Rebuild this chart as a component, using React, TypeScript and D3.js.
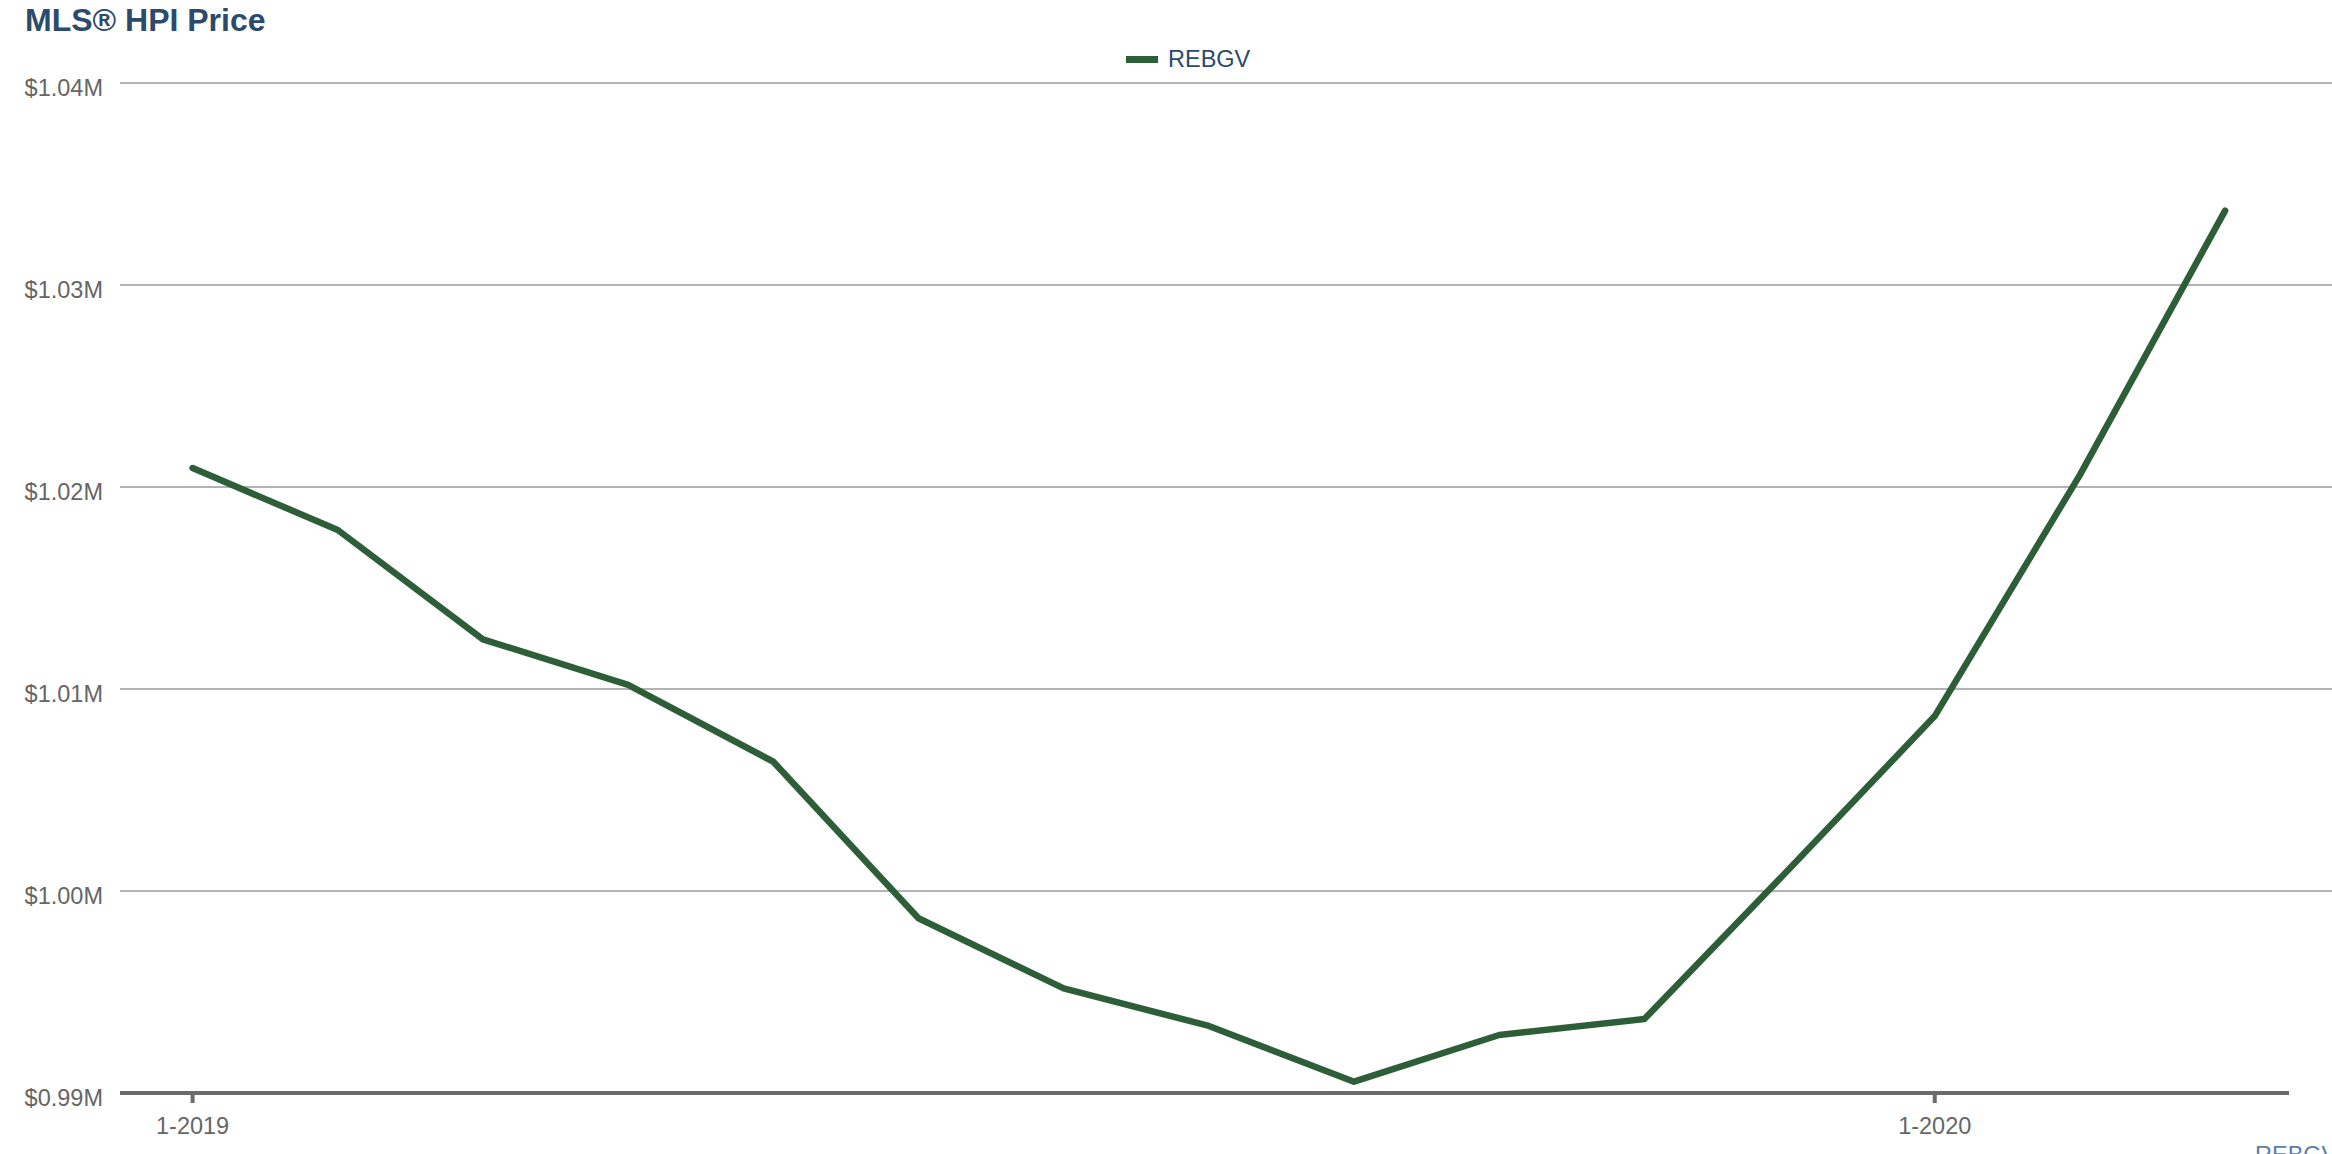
import React from "react";
import * as d3 from "d3";

const months = [
  "1-2019", "2-2019", "3-2019", "4-2019", "5-2019", "6-2019", "7-2019", "8-2019",
  "9-2019", "10-2019", "11-2019", "12-2019", "1-2020", "2-2020", "3-2020",
];
const rebgv = [
  1020940, 1017870, 1012460, 1010200, 1006400, 998650, 995180, 993320,
  990560, 992870, 993660, 1001110, 1008660, 1020600, 1033680,
];
const yTicks = [990000, 1000000, 1010000, 1020000, 1030000, 1040000];
const xTickLabels = ["1-2019", "1-2020"];
const seriesName = "REBGV";
const title = "MLS® HPI Price";

const W = 2332;
const H = 1154;
const FONT = "Arial, 'Liberation Sans', Helvetica, sans-serif";

export default function App() {
  const x = d3.scaleLinear().domain([-0.5, months.length - 1 + 0.44]).range([120, 2289]);
  const y = d3.scaleLinear().domain([990000, 1040000]).range([1093, 83]);
  const line = d3
    .line<number>()
    .x((_, i) => x(i))
    .y((d) => y(d));
  const fmt = (v: number) => "$" + d3.format(".2f")(v / 1e6) + "M";

  return (
    <svg
      width={W}
      height={H}
      style={{ position: "absolute", left: 0, top: 0, background: "#fff" }}
      fontFamily={FONT}
    >
      <text x={25} y={31} fontSize={32} fontWeight="bold" fill="#2c4a6c">
        {title}
      </text>
      {/* legend */}
      <line x1={1126} x2={1158} y1={59.5} y2={59.5} stroke="#2d5e37" strokeWidth={7} />
      <text x={1168} y={67} fontSize={23.5} fill="#2c4a6c">
        {seriesName}
      </text>
      {/* gridlines */}
      {yTicks.slice(1).map((t) => (
        <line key={t} x1={120} x2={W} y1={y(t)} y2={y(t)} stroke="#b3b3b3" strokeWidth={2} />
      ))}
      {yTicks.map((t) => (
        <text key={"l" + t} x={103} y={y(t) + 13} fontSize={23.5} fill="#666" textAnchor="end">
          {fmt(t)}
        </text>
      ))}
      {/* x axis */}
      <line x1={120} x2={2289} y1={y(990000)} y2={y(990000)} stroke="#6b6b6b" strokeWidth={4} />
      {xTickLabels.map((lab) => {
        const i = months.indexOf(lab);
        return (
          <g key={lab}>
            <line x1={x(i)} x2={x(i)} y1={y(990000)} y2={y(990000) + 10} stroke="#6b6b6b" strokeWidth={4} />
            <text x={x(i)} y={1134} fontSize={23.5} fill="#666" textAnchor="middle">
              {lab}
            </text>
          </g>
        );
      })}
      <path
        d={line(rebgv) || ""}
        fill="none"
        stroke="#2d5e37"
        strokeWidth={6.5}
        strokeLinecap="round"
        strokeLinejoin="round"
      />
      <text x={2255} y={1163} fontSize={23.5} fill="#5b7fa8">
        {seriesName}
      </text>
    </svg>
  );
}
